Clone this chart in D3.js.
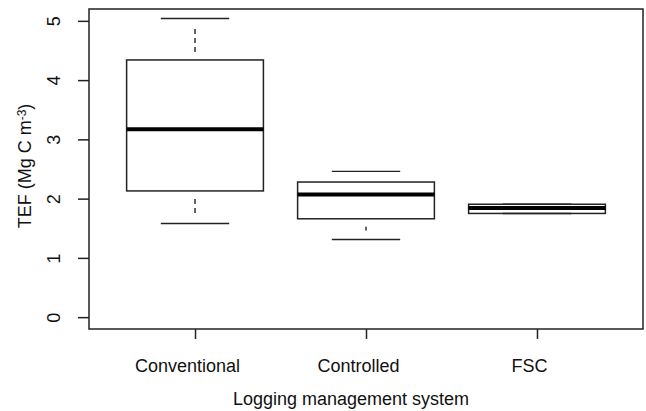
<!DOCTYPE html>
<html>
<head>
<meta charset="utf-8">
<script src="https://cdnjs.cloudflare.com/ajax/libs/d3/7.8.5/d3.min.js"></script>
<style>
  body { margin: 0; background: #fff; }
  text { font-family: "Liberation Sans", Arial, sans-serif; fill: #111; }
</style>
</head>
<body>
<script>
// boxplot stats
var categories = ["Conventional", "Controlled", "FSC"];
var whiskerLow = [1.58, 1.31, 1.75];
var q1 = [2.13, 1.66, 1.75];
var median = [3.17, 2.07, 1.84];
var q3 = [4.34, 2.28, 1.905];
var whiskerHigh = [5.04, 2.46, 1.905];
var yTicks = [0, 1, 2, 3, 4, 5];

var W = 646, H = 411;
var plot = {left: 89, right: 643, top: 9, bottom: 329};
var ink = "#222";

var svg = d3.select("body").append("svg")
    .attr("width", W)
    .attr("height", H);

var x = d3.scalePoint()
    .domain(categories)
    .range([plot.left, plot.right])
    .padding(0.62);

var y = d3.scaleLinear()
    .domain([-0.2, 5.2])
    .range([plot.bottom, plot.top]);

var step = x.step();
var boxW = step * 0.8, capW = step * 0.4;

var data = categories.map(function(c, i) {
  return {cat: c, lo: whiskerLow[i], q1: q1[i], med: median[i], q3: q3[i], hi: whiskerHigh[i]};
});

var g = svg.selectAll("g.box")
    .data(data)
    .enter().append("g")
    .attr("class", "box");

// dashed whiskers (R draws lty=2), gaps left near the ends
function dashSeg(sel, a, b) {
  sel.append("line")
      .attr("x1", function(d) { return x(d.cat); })
      .attr("x2", function(d) { return x(d.cat); })
      .attr("y1", function(d) { return y(d[a]) + (y(d[b]) > y(d[a]) ? 8 : -8); })
      .attr("y2", function(d) { return y(d[b]) + (y(d[b]) > y(d[a]) ? -9 : 9); })
      .attr("stroke", function(d) { return Math.abs(y(d[b]) - y(d[a])) > 18 ? ink : "none"; })
      .attr("stroke-width", 1.4)
      .attr("stroke-dasharray", "5,4");
}
dashSeg(g, "q3", "hi");
dashSeg(g, "q1", "lo");

// whisker caps
["lo", "hi"].forEach(function(k) {
  g.append("line")
      .attr("x1", function(d) { return x(d.cat) - capW / 2; })
      .attr("x2", function(d) { return x(d.cat) + capW / 2; })
      .attr("y1", function(d) { return y(d[k]); })
      .attr("y2", function(d) { return y(d[k]); })
      .attr("stroke", ink)
      .attr("stroke-width", 1.4);
});

g.append("rect")
    .attr("x", function(d) { return x(d.cat) - boxW / 2; })
    .attr("width", boxW)
    .attr("y", function(d) { return y(d.q3); })
    .attr("height", function(d) { return y(d.q1) - y(d.q3); })
    .attr("fill", "none")
    .attr("stroke", ink)
    .attr("stroke-width", 1.5);

g.append("line")
    .attr("x1", function(d) { return x(d.cat) - boxW / 2; })
    .attr("x2", function(d) { return x(d.cat) + boxW / 2; })
    .attr("y1", function(d) { return y(d.med); })
    .attr("y2", function(d) { return y(d.med); })
    .attr("stroke", "#000")
    .attr("stroke-width", 4);

// frame
svg.append("rect")
    .attr("x", plot.left)
    .attr("y", plot.top)
    .attr("width", plot.right - plot.left)
    .attr("height", plot.bottom - plot.top)
    .attr("fill", "none")
    .attr("stroke", ink)
    .attr("stroke-width", 1.5);

// x axis
var xAxis = svg.append("g")
    .attr("transform", "translate(0," + plot.bottom + ")")
    .call(d3.axisBottom(x).tickSize(10).tickSizeOuter(0));
xAxis.select(".domain").remove();
xAxis.selectAll(".tick line").attr("stroke", ink).attr("stroke-width", 1.5);
xAxis.selectAll(".tick text")
    .attr("y", 37)
    .attr("dx", -8)
    .attr("dy", "0.32em")
    .style("font-size", "18px")
    .style("font-family", "Liberation Sans, Arial, sans-serif")
    .attr("fill", "#111");

// y axis
var yAxis = svg.append("g")
    .attr("transform", "translate(" + plot.left + ",0)")
    .call(d3.axisLeft(y).tickValues(yTicks).tickFormat(d3.format("d")).tickSize(11).tickSizeOuter(0));
yAxis.select(".domain").remove();
yAxis.selectAll(".tick line").attr("stroke", ink).attr("stroke-width", 1.5);
yAxis.selectAll(".tick text")
    .attr("x", null)
    .attr("dy", null)
    .attr("text-anchor", "middle")
    .attr("transform", "translate(-29,0) rotate(-90)")
    .style("font-size", "18px")
    .style("font-family", "Liberation Sans, Arial, sans-serif")
    .attr("fill", "#111");

// axis titles
svg.append("text")
    .attr("x", (plot.left + plot.right) / 2 - 15)
    .attr("y", 405)
    .attr("text-anchor", "middle")
    .style("font-size", "18px")
    .text("Logging management system");

var yt = svg.append("text")
    .attr("transform", "translate(31," + ((plot.top + plot.bottom) / 2 - 3) + ") rotate(-90)")
    .attr("text-anchor", "middle")
    .style("font-size", "18px");
yt.append("tspan").text("TEF (Mg C m");
yt.append("tspan").attr("dy", "-0.45em").style("font-size", "12px").text("-3");
yt.append("tspan").attr("dy", "0.3em").text(")");
</script>
</body>
</html>
